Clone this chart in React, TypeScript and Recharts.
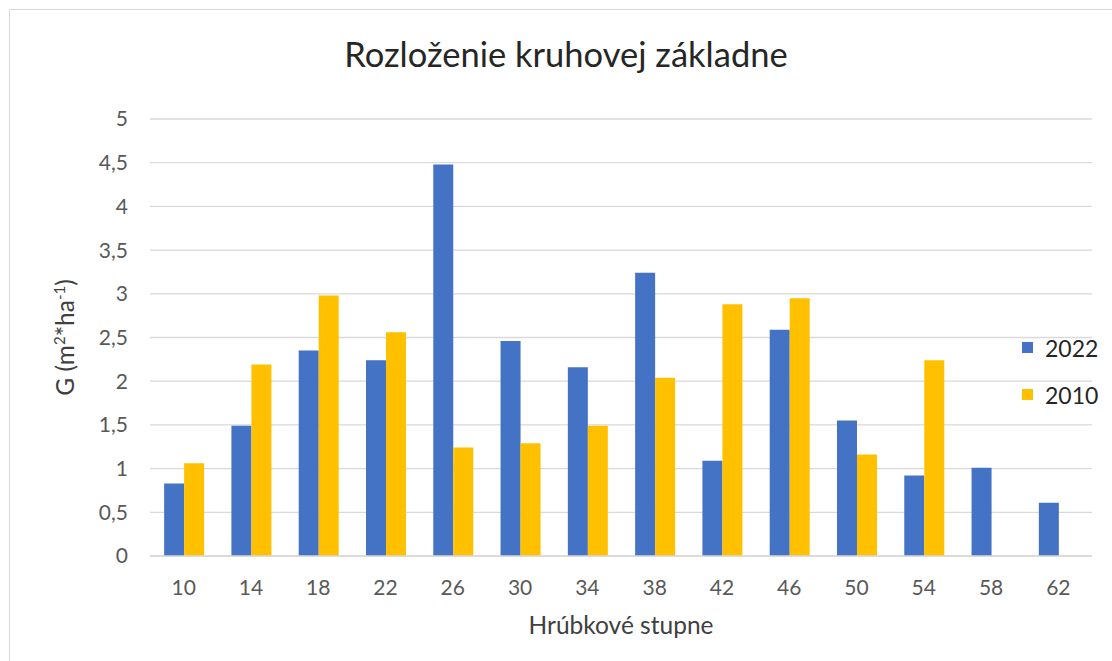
import { BarChart, Bar, XAxis, YAxis, CartesianGrid, Legend } from 'recharts';

const categories = ['10', '14', '18', '22', '26', '30', '34', '38', '42', '46', '50', '54', '58', '62'];
const values2022 = [0.83, 1.49, 2.35, 2.24, 4.48, 2.46, 2.16, 3.24, 1.09, 2.59, 1.55, 0.92, 1.01, 0.61];
const values2010 = [1.06, 2.19, 2.98, 2.56, 1.24, 1.29, 1.49, 2.04, 2.88, 2.95, 1.16, 2.24, null, null];
const yTicks = [0, 0.5, 1, 1.5, 2, 2.5, 3, 3.5, 4, 4.5, 5];

const seriesNames = ['2022', '2010'];
const seriesColors = ['#4472C4', '#FFC000'];

const data = categories.map((c, i) => ({
  name: c,
  y2022: values2022[i],
  y2010: values2010[i],
}));

const FONT = 'Lato, "Open Sans", sans-serif';

function YLabel({ viewBox }: any) {
  const cx = 74;
  const cy = viewBox.y + viewBox.height / 2;
  return (
    <text
      x={cx}
      y={cy}
      transform={`rotate(-90, ${cx}, ${cy})`}
      textAnchor="middle"
      fill="#404040"
      fontSize={24.5}
      fontFamily={FONT}
    >
      G (m
      <tspan dy={-9} fontSize={15}>2</tspan>
      <tspan dy={9}>*ha</tspan>
      <tspan dy={-9} fontSize={15}>-1</tspan>
      <tspan dy={9}>)</tspan>
    </text>
  );
}

function LegendBox() {
  return (
    <div style={{ fontFamily: FONT, fontSize: 23, color: '#262626' }}>
      {seriesNames.map((n, i) => (
        <div key={n} style={{ display: 'flex', alignItems: 'center', height: 47 }}>
          <span style={{ width: 11, height: 11, background: seriesColors[i], marginRight: 12 }} />
          <span>{n}</span>
        </div>
      ))}
    </div>
  );
}

export default function App() {
  return (
    <div style={{ position: 'absolute', left: 0, top: 0, width: 1112, height: 661, background: '#fff' }}>
      <div
        style={{
          position: 'absolute', left: 0, top: 0, width: 1132, textAlign: 'center',
          fontFamily: FONT, fontSize: 34.5, color: '#262626', lineHeight: '34px', paddingTop: 37,
        }}
      >
        Rozloženie kruhovej základne
      </div>
      <BarChart
        width={1112}
        height={661}
        data={data}
        margin={{ top: 119, right: 20, left: 0, bottom: 0 }}
        barCategoryGap="21%"
        barGap={0}
      >
        <CartesianGrid vertical={false} stroke="#d9d9d9" strokeWidth={1.3} />
        <XAxis
          dataKey="name"
          height={105}
          axisLine={{ stroke: '#d9d9d9', strokeWidth: 1.3 }}
          tickLine={false}
          tickSize={0}
          tickMargin={24}
          tick={{ fill: '#595959', fontSize: 21, fontFamily: FONT }}
          label={{
            value: 'Hrúbkové stupne', position: 'insideBottom', offset: 27,
            fill: '#404040', fontSize: 24.5, fontFamily: FONT,
          }}
        />
        <YAxis
          width={150}
          domain={[0, 5]}
          ticks={yTicks}
          axisLine={false}
          tickLine={false}
          tickSize={0}
          tickMargin={22}
          interval={0}
          tickFormatter={(v: number) => String(v).replace('.', ',')}
          tick={{ fill: '#595959', fontSize: 21, fontFamily: FONT }}
          label={{ content: YLabel }}
        />
        <Legend
          layout="vertical"
          align="center"
          verticalAlign="middle"
          content={LegendBox}
          wrapperStyle={{ left: 1022, top: 324, width: 90 }}
        />
        <Bar dataKey="y2022" name={seriesNames[0]} fill={seriesColors[0]} isAnimationActive={false} />
        <Bar dataKey="y2010" name={seriesNames[1]} fill={seriesColors[1]} isAnimationActive={false} />
      </BarChart>
      <div
        style={{
          position: 'absolute', left: 9, top: 9, right: 0, bottom: 0,
          borderLeft: '1.5px solid #d9d9d9', borderTop: '1.5px solid #d9d9d9', pointerEvents: 'none',
        }}
      />
    </div>
  );
}
